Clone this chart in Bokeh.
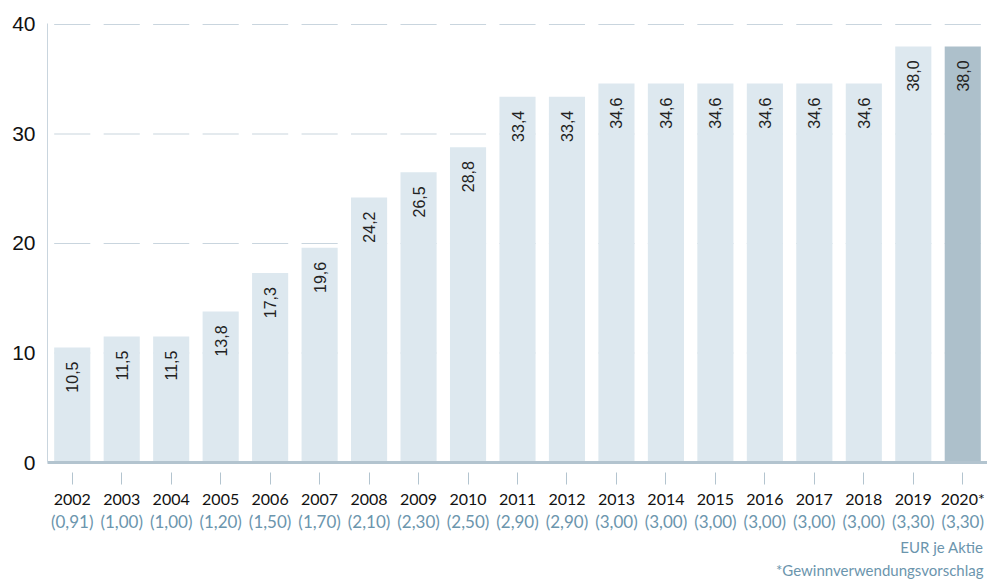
import math
from bokeh.plotting import figure
from bokeh.models import (FactorRange, Range1d, FixedTicker, CategoricalAxis, Title,
                          ColumnDataSource, CustomJSTickFormatter)
from bokeh.core.properties import value
from bokeh.embed import file_html
from bokeh.resources import INLINE

# ---- data ----
years = ["2002", "2003", "2004", "2005", "2006", "2007", "2008", "2009", "2010",
         "2011", "2012", "2013", "2014", "2015", "2016", "2017", "2018", "2019", "2020*"]
dividend_sum = [10.5, 11.5, 11.5, 13.8, 17.3, 19.6, 24.2, 26.5, 28.8,
                33.4, 33.4, 34.6, 34.6, 34.6, 34.6, 34.6, 34.6, 38.0, 38.0]
eur_per_share = [0.91, 1.00, 1.00, 1.20, 1.50, 1.70, 2.10, 2.30, 2.50,
                 2.90, 2.90, 3.00, 3.00, 3.00, 3.00, 3.00, 3.00, 3.30, 3.30]
y_ticks = [0, 10, 20, 30, 40]
unit_note = "EUR je Aktie"
footnote = "*Gewinnverwendungsvorschlag"

# ---- styles ----
BAR = "#dde8ef"
BAR_HI = "#adc0cb"
BASE = "#b3c4cf"
GRID = "#c9d5de"
BLUE = "#6b95ad"
FONT = "Lato"

def de(v, nd):
    return f"{v:.{nd}f}".replace(".", ",")

colors = [BAR_HI if y.endswith("*") else BAR for y in years]
labels = [de(v, 1) for v in dividend_sum]
eps_labels = [f"({de(v, 2)})" for v in eur_per_share]

p = figure(width=987, height=580, x_range=FactorRange(factors=years),
           y_range=Range1d(0, 40.09), output_backend="svg", toolbar_location=None,
           min_border_left=47, min_border_right=0, min_border_top=23, min_border_bottom=0)
p.outline_line_color = None
p.xgrid.visible = False
p.ygrid.visible = False

# dashed grid segments aligned to bars
gx0, gx1, gy = [], [], []
for t in y_ticks[1:]:
    for yv in years:
        gx0.append((yv, -0.365))
        gx1.append((yv, 0.365))
        gy.append(t)
p.segment(x0=gx0, x1=gx1, y0=gy, y1=gy, line_color=GRID, line_width=1.2)

src = ColumnDataSource(dict(x=years, top=dividend_sum, color=colors, label=labels))
p.vbar(x="x", top="top", width=0.73, fill_color="color", line_color=None, source=src)
p.text(x="x", y="top", text="label", source=src, angle=math.pi / 2,
       text_align="right", text_baseline="middle", y_offset=14,
       text_font=value("Liberation Sans"), text_font_size="16px", text_color="#222222")

# y axis
ya = p.yaxis[0]
ya.ticker = FixedTicker(ticks=y_ticks)
ya.axis_line_color = GRID
ya.major_tick_line_color = None
ya.major_tick_in = 0
ya.major_tick_out = 0
ya.minor_tick_line_color = None
ya.minor_tick_in = 0
ya.minor_tick_out = 0
ya.major_label_text_font = "Liberation Sans"
ya.major_label_text_font_size = "21px"
ya.major_label_text_color = "#111111"
ya.major_label_standoff = 12

# x axis (years)
xa = p.xaxis[0]
xa.axis_line_color = BASE
xa.axis_line_width = 3
xa.major_tick_in = -10
xa.major_tick_out = 22
xa.major_tick_line_color = BASE
xa.major_label_text_font = FONT
xa.major_label_text_font_size = "16px"
xa.major_label_text_color = "#111111"
xa.major_label_standoff = 4

# second x axis (EUR je Aktie values)
fmt = CustomJSTickFormatter(args=dict(ys=years, ls=eps_labels),
                            code="const i = ys.indexOf(tick); return i >= 0 ? ls[i] : '';")
xa2 = CategoricalAxis(formatter=fmt,
                      axis_line_color=None, major_tick_line_color=None,
                      major_tick_in=0, major_tick_out=0, major_label_standoff=0,
                      major_label_text_font=FONT, major_label_text_font_size="17px",
                      major_label_text_color=BLUE)
p.add_layout(xa2, "below")

t1 = Title(text=unit_note, align="right", text_font=FONT, text_font_size="15px",
           text_color=BLUE, text_font_style="normal", offset=4, standoff=2)
t2 = Title(text=footnote, align="right", text_font=FONT, text_font_size="15px",
           text_color=BLUE, text_font_style="normal", offset=4, standoff=4)
p.add_layout(t1, "below")
p.add_layout(t2, "below")

open("out.html", "w").write(file_html(p, INLINE))
